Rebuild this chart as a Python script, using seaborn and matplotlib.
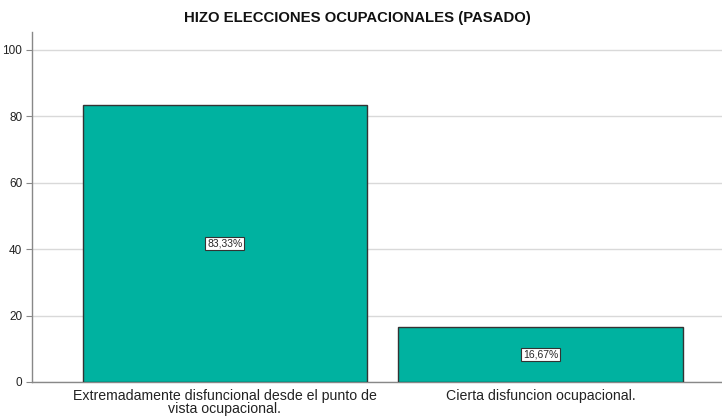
import numpy as np
import pandas as pd
import matplotlib
matplotlib.use("Agg")
import matplotlib.pyplot as plt
import seaborn as sns

categories = ["Extremadamente disfuncional desde el punto de\nvista ocupacional.",
              "Cierta disfuncion ocupacional."]
percentages = [83.33, 16.67]
bar_labels = ["83,33%", "16,67%"]
yticks = [0, 20, 40, 60, 80, 100]

df = pd.DataFrame({"cat": categories, "pct": percentages})

sns.set_style("white")
plt.rcParams['font.family'] = ['Liberation Sans', 'DejaVu Sans']

fig = plt.figure(figsize=(7.22, 4.17), dpi=100)
ax = fig.add_axes([32/722, 1 - 382/417, 690/722, 350/417])

ax = sns.barplot(data=df, x="cat", y="pct", color="#00b2a0", saturation=1,
                 width=0.9, edgecolor="#333333", linewidth=1, ax=ax, zorder=3)

ax.set_ylim(0, 105.4)
ax.set_xlim(-0.61, 1.575)
ax.set_yticks(yticks)
ax.yaxis.grid(True, color="#d9d9d9", linewidth=1, zorder=0)
ax.set_axisbelow(True)
ax.set_xlabel("")
ax.set_ylabel("")
ax.tick_params(axis="y", labelsize=8.5, length=4, color="#888888", left=True, pad=3,
               labelcolor="#222222")
ax.tick_params(axis="x", labelsize=10.2, length=0, pad=5, labelcolor="#222222")
for lbl in ax.get_xticklabels():
    lbl.set_linespacing(0.92)

for s in ["top", "right"]:
    ax.spines[s].set_visible(False)
for s in ["left", "bottom"]:
    ax.spines[s].set_color("#888888")
    ax.spines[s].set_linewidth(1)

for i, (v, t) in enumerate(zip(percentages, bar_labels)):
    ax.text(i, v / 2, t, ha="center", va="center", fontsize=7.5, zorder=5,
            bbox=dict(boxstyle="square,pad=0.15", fc="white", ec="#333333", lw=0.8))

fig.text(357/722, 1 - 18/417, "HIZO ELECCIONES OCUPACIONALES (PASADO)",
         ha="center", va="center", fontsize=10.7, fontweight="bold", color="#111111")

fig.savefig("out.png", dpi=100)
